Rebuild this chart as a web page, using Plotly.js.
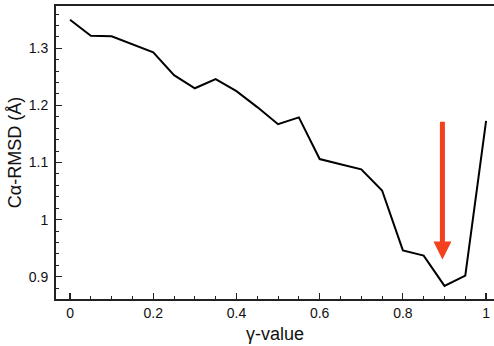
<!DOCTYPE html>
<html>
<head>
<meta charset="utf-8">
<script src="https://cdn.plot.ly/plotly-3.0.1.min.js"></script>
<style>html,body{margin:0;padding:0;background:#fff;}#chart{width:494px;height:346px;}</style>
</head>
<body>
<div id="chart"></div>
<script>
const gammaValues = [0, 0.05, 0.1, 0.15, 0.2, 0.25, 0.3, 0.35, 0.4, 0.45, 0.5, 0.55, 0.6, 0.65, 0.7, 0.75, 0.8, 0.85, 0.9, 0.95, 1.0];
const rmsdValues = [1.350, 1.322, 1.321, 1.307, 1.293, 1.253, 1.230, 1.246, 1.225, 1.197, 1.167, 1.179, 1.106, 1.097, 1.088, 1.051, 0.946, 0.937, 0.884, 0.902, 1.173];
const xTickVals = [0, 0.2, 0.4, 0.6, 0.8, 1];
const xTickText = ['0', '0.2', '0.4', '0.6', '0.8', '1'];
const yTickVals = [0.9, 1.0, 1.1, 1.2, 1.3];
const yTickText = ['0.9', '1', '1.1', '1.2', '1.3'];
const arrowX = 0.895, arrowTipY = 0.93, arrowTailY = 1.174;

const font = {family: 'Liberation Sans, Arial, sans-serif', color: '#111'};

Plotly.newPlot('chart', [{
  x: gammaValues, y: rmsdValues, type: 'scatter', mode: 'lines',
  line: {color: '#000', width: 2}, hoverinfo: 'skip'
}], {
  width: 494, height: 346,
  margin: {l: 56, r: 0, t: 6, b: 47},
  paper_bgcolor: '#fff', plot_bgcolor: '#fff',
  showlegend: false,
  font: Object.assign({size: 14}, font),
  xaxis: {
    range: [-0.0337, 1.019], tickvals: xTickVals, ticktext: xTickText,
    ticks: 'inside', ticklen: 6, tickwidth: 1.2, tickcolor: '#222',
    minor: {dtick: 0.05, ticks: 'inside', ticklen: 3, tickwidth: 1, tickcolor: '#222', showgrid: false},
    showgrid: false, zeroline: false, showline: true, linecolor: '#222', linewidth: 2, mirror: true,
    tickfont: Object.assign({size: 14}, font),
    title: {text: 'γ-value', font: Object.assign({size: 18}, font), standoff: 8}
  },
  yaxis: {
    range: [0.861, 1.374], tickvals: yTickVals, ticktext: yTickText,
    ticks: 'inside', ticklen: 6, tickwidth: 1.2, tickcolor: '#222', ticklabelstandoff: 3,
    minor: {dtick: 0.02, ticks: 'inside', ticklen: 3, tickwidth: 1, tickcolor: '#222', showgrid: false},
    showgrid: false, zeroline: false, showline: true, linecolor: '#222', linewidth: 2,
    tickfont: Object.assign({size: 14}, font),
    title: {text: 'Cα-RMSD (Å)', font: Object.assign({size: 18}, font), standoff: 2}
  },
  annotations: [{
    x: arrowX, y: arrowTipY, xref: 'x', yref: 'y',
    ax: arrowX, ay: arrowTailY, axref: 'x', ayref: 'y',
    text: '', showarrow: true, arrowhead: 2, arrowsize: 0.72, arrowwidth: 5, arrowcolor: '#f2411c'
  }]
}, {displayModeBar: false, staticPlot: true});
</script>
</body>
</html>
